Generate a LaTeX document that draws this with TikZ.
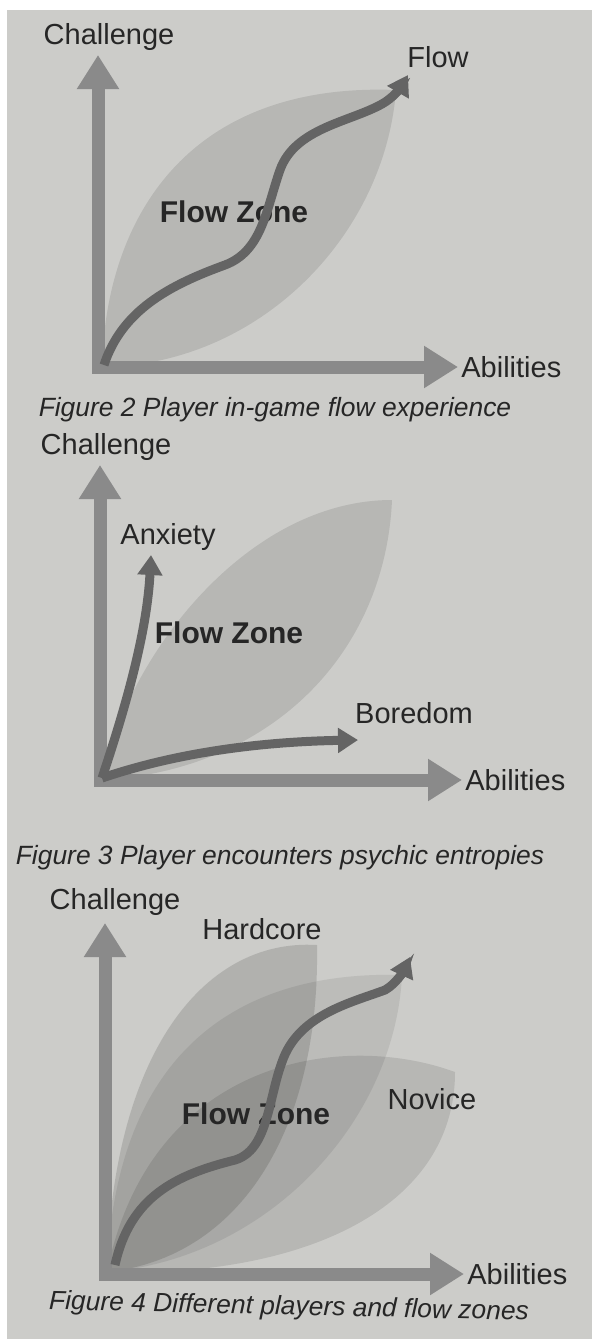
\documentclass[tikz,border=0pt]{standalone}
\usepackage{fontspec}
\setmainfont{Liberation Sans}
\usepackage{tikz}
\usetikzlibrary{arrows.meta, positioning}
\definecolor{paper}{RGB}{204,204,201}
\definecolor{axisgray}{RGB}{138,138,138}
\definecolor{curvegray}{RGB}{100,100,100}
\definecolor{inkgray}{RGB}{38,38,38}

\begin{document}
\begin{tikzpicture}[x=0.5pt, y=-0.5pt,
  axis/.style={line width=6.5pt, draw=axisgray,
               {Triangle[length=17pt, width=20pt]}-{Triangle[length=17pt, width=20pt]}},
  flowline/.style={line width=4.5pt, draw=curvegray, -{Triangle[length=10pt, width=12pt]}},
  zone/.style={fill=black, fill opacity=0.1, draw=none},
  lbl/.style={font=\fontsize{14.5}{17}\selectfont, text=inkgray, inner sep=0pt},
  zonelbl/.style={font=\fontsize{15}{18}\selectfont\bfseries, text=inkgray, inner sep=0pt},
  caption/.style={font=\fontsize{13.2}{16}\selectfont\itshape, text=inkgray, inner sep=0pt}]

  \useasboundingbox (0,0) rectangle (592,1339);
  \fill[white] (0,0) rectangle (592,1339);
  \fill[paper] (7,10) rectangle (592,1339);

  % Figure 2
  \coordinate (o1) at (98,367);
  \coordinate (yt1) at (98,55);
  \coordinate (xt1) at (458,367);
  \coordinate (s1) at (104,365);
  \coordinate (f1) at (408,75);
  \fill[zone] (102,367) .. controls (106,215) and (190,82) .. (396,90)
              .. controls (385,235) and (260,365) .. (102,367);
  \draw[axis] (yt1) -- (o1) -- (xt1);
  \node[lbl] (chal1) at (109,37) {Challenge};
  \node[lbl] (flow1) at (438,57) {Flow};
  \node[lbl, right=1.5pt of xt1] (abil1) {Abilities};
  \node[zonelbl] (zone1) at (234,212) {Flow Zone};
  \draw[flowline] (s1) .. controls (122,310) and (170,285) .. (225,265)
                  .. controls (262,251) and (266,210) .. (280,170)
                  .. controls (295,128) and (350,122) .. (382,104)
                  .. controls (393,98) and (401,87) .. (f1);
  \node[caption] (cap1) at (275,410) {Figure 2 Player in-game flow experience};

  % Figure 3
  \coordinate (o2) at (100,780);
  \coordinate (yt2) at (100,465);
  \coordinate (xt2) at (462,780);
  \coordinate (s2) at (102,778);
  \coordinate (a2) at (151,555);
  \coordinate (b2) at (358,740);
  \fill[zone] (102,780) .. controls (125,660) and (245,500) .. (392,500)
              .. controls (385,655) and (270,770) .. (102,780);
  \draw[axis] (yt2) -- (o2) -- (xt2);
  \node[lbl] (chal2) at (106,447) {Challenge};
  \node[lbl] (anx2) at (168,537) {Anxiety};
  \node[lbl] (bor2) at (414,713) {Boredom};
  \node[lbl, right=1.5pt of xt2] (abil2) {Abilities};
  \node[zonelbl] (zone2) at (229,633) {Flow Zone};
  \draw[flowline] (s2) .. controls (128,700) and (147,630) .. (a2);
  \draw[flowline] (s2) .. controls (170,755) and (250,742) .. (b2);
  \node[caption] (cap2) at (280,858) {Figure 3 Player encounters psychic entropies};

  % Figure 4
  \coordinate (o3) at (105,1274);
  \coordinate (yt3) at (105,923);
  \coordinate (xt3) at (464,1274);
  \coordinate (s3) at (115,1265);
  \coordinate (f3) at (410,957);
  \fill[zone, fill opacity=0.13] (107,1272) .. controls (112,1060) and (200,938) .. (317,945)
              .. controls (320,1130) and (240,1258) .. (107,1272);
  \fill[zone, fill opacity=0.08] (107,1272) .. controls (115,1060) and (230,970) .. (402,975)
              .. controls (395,1120) and (270,1258) .. (107,1272);
  \fill[zone] (107,1272) .. controls (150,1060) and (340,1030) .. (455,1072)
              .. controls (455,1210) and (300,1278) .. (107,1272);
  \draw[axis] (yt3) -- (o3) -- (xt3);
  \node[lbl] (chal3) at (115,902) {Challenge};
  \node[lbl] (hard3) at (262,929) {Hardcore};
  \node[lbl] (nov3) at (432,1099) {Novice};
  \node[lbl, right=1.5pt of xt3] (abil3) {Abilities};
  \node[zonelbl] (zone3) at (256,1114) {Flow Zone};
  \draw[flowline] (s3) .. controls (130,1197) and (175,1175) .. (235,1160)
                  .. controls (268,1150) and (268,1100) .. (282,1062)
                  .. controls (298,1015) and (350,1003) .. (385,990)
                  .. controls (396,984) and (404,970) .. (f3);
  \node[caption, rotate=-1.3] (cap3) at (289,1308) {Figure 4 Different players and flow zones};
\end{tikzpicture}
\end{document}
